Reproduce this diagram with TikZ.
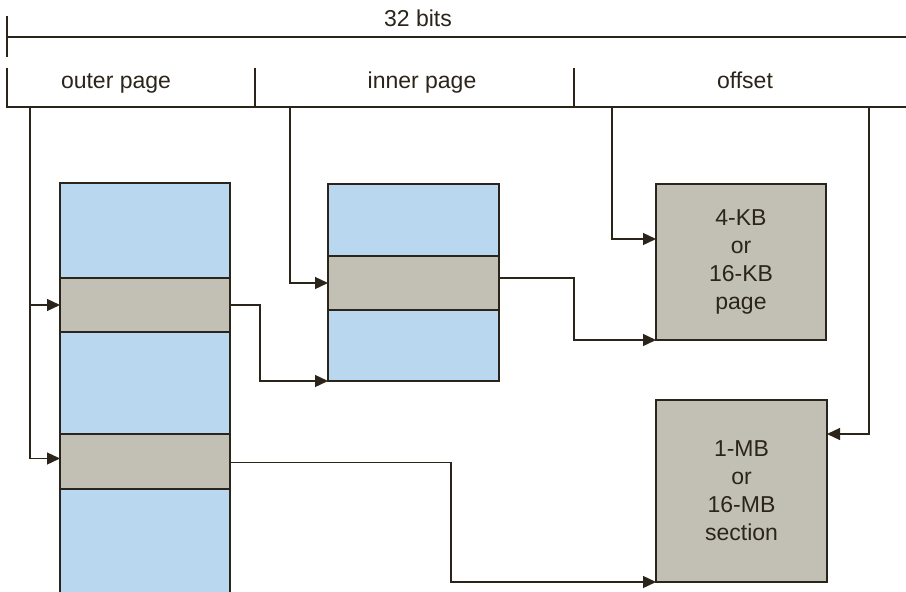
\documentclass[tikz,border=0pt]{standalone}
\usepackage{fontspec}
\setmainfont{Liberation Sans}
\usetikzlibrary{arrows.meta}
\definecolor{ink}{HTML}{2B241B}
\definecolor{tblblue}{HTML}{B9D8F0}
\definecolor{rowgray}{HTML}{C2C0B4}
\begin{document}
\begin{tikzpicture}[x=1pt,y=-1pt,
  every node/.style={inner sep=0pt, outer sep=0pt, text=ink},
  lbl/.style={anchor=base, font=\fontsize{23}{28}\selectfont},
  field/.style={anchor=north west, minimum height=39pt},
  tbl/.style={draw=ink, line width=1.5pt, fill=tblblue, anchor=north west},
  rowbox/.style={draw=ink, line width=1.5pt, fill=rowgray, anchor=north west},
  pagebox/.style={draw=ink, line width=1.5pt, fill=rowgray, anchor=north west, align=center, font=\fontsize{23}{28}\selectfont},
  conn/.style={draw=ink, line width=1.3pt},
  arr/.style={conn, -{Triangle[length=13pt,width=12pt]}}]
\useasboundingbox (0,0) rectangle (906,592);
% 32 bits scale
\node[lbl] (bits) at (418,26) {32 bits};
\coordinate (bl) at (7,37);
\coordinate (br) at (906,37);
\draw[ink, line width=2pt] (7,16) -- (7,57);
\draw[ink, line width=2pt] (bl) -- (br);
% fields
\node[field, minimum width=248pt] (outer) at (7,68) {};
\node[field, minimum width=319pt] (inner) at (255,68) {};
\node[field, minimum width=332pt] (offset) at (574,68) {};
\node[lbl] (outerlbl) at (116,88) {outer page};
\node[lbl] (innerlbl) at (422,88) {inner page};
\node[lbl] (offsetlbl) at (745,88) {offset};
\draw[ink, line width=1.5pt] (outer.north west) -- (outer.south west) -- (offset.south east);
\draw[ink, line width=1.5pt] (inner.north west) -- (inner.south west);
\draw[ink, line width=1.5pt] (offset.north west) -- (offset.south west);
% outer page table
\node[tbl, minimum width=170pt, minimum height=420pt] (otab) at (60,183) {};
\node[rowbox, minimum width=170pt, minimum height=54pt] (orow1) at (60,278) {};
\node[rowbox, minimum width=170pt, minimum height=55pt] (orow2) at (60,434) {};
% inner page table
\node[tbl, minimum width=171pt, minimum height=197pt] (itab) at (328,184) {};
\node[rowbox, minimum width=171pt, minimum height=54pt] (irow) at (328,256) {};
% pages
\node[pagebox, minimum width=170pt, minimum height=156pt] (page) at (656,184) {4-KB\\or\\16-KB\\page};
\node[pagebox, minimum width=171pt, minimum height=182pt] (section) at (656,400) {1-MB\\or\\16-MB\\section};
% taps
\coordinate (t1) at (30,107);
\coordinate (t2) at (290,107);
\coordinate (t3) at (612,107);
\coordinate (t4) at (869,107);
% connectors
\draw[arr] (t1) |- (orow1.west);
\draw[arr] (t1) |- ([yshift=3pt]orow2.west);
\draw[arr] (t2) |- (irow.west);
\draw[arr] (t3) |- ([yshift=-55pt]page.north west);
\draw[arr] (t4) |- ([yshift=-34pt]section.north east);
\draw[arr] (orow1.east) -- ++(30,0) |- (itab.south west);
\draw[arr] ([yshift=5pt]irow.east) -- ++(75,0) |- (page.south west);
\draw[arr] ([yshift=-1pt]orow2.east) -- ++(221,0) |- (section.south west);
\end{tikzpicture}
\end{document}
